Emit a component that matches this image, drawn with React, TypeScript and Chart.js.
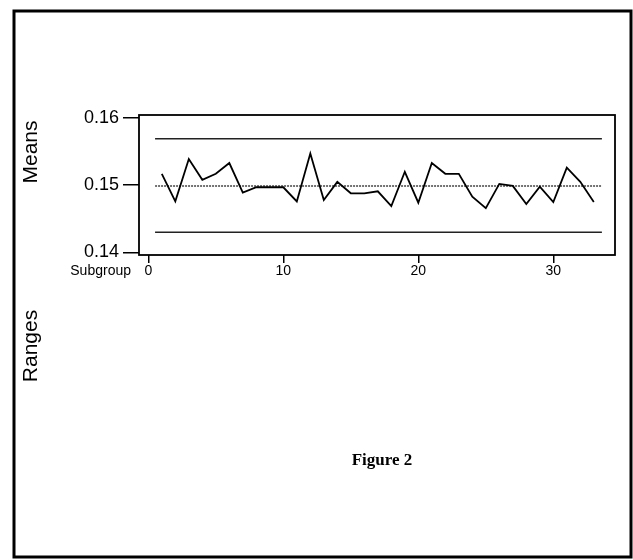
import React, { useEffect, useRef } from "react";
import { Chart, registerables } from "chart.js";

Chart.register(...registerables);

const subgroups = [1, 2, 3, 4, 5, 6, 7, 8, 9, 10, 11, 12, 13, 14, 15, 16, 17, 18, 19, 20, 21, 22, 23, 24, 25, 26, 27, 28, 29, 30, 31, 32, 33];
const means = [
  0.1517, 0.1476, 0.1539, 0.1508, 0.1517, 0.1533, 0.1489, 0.1497, 0.1497, 0.1497,
  0.1476, 0.1547, 0.1478, 0.1505, 0.1488, 0.1488, 0.1491, 0.1469, 0.152, 0.1474,
  0.1533, 0.1517, 0.1517, 0.1483, 0.1466, 0.1502, 0.1499, 0.1472, 0.1498, 0.1475,
  0.1526, 0.1505, 0.1475,
];
const upperLimit = 0.1569;
const centerLine = 0.1499;
const lowerLimit = 0.143;
const limitSpan = [0.5, 33.6];
const yTickValues = [0.14, 0.15, 0.16];
const xTickValues = [0, 10, 20, 30];
const yRange = [0.13963, 0.16044];
const xRange = [-0.69, 34.57];

const SANS = "'Liberation Sans', Arial, sans-serif";
const SERIF = "'Liberation Serif', 'Times New Roman', serif";

const decorPlugin = {
  id: "decor",
  afterDraw(chart: any) {
    const ctx = chart.ctx;
    const a = chart.chartArea;
    ctx.save();
    // plot box
    ctx.strokeStyle = "#000";
    ctx.lineWidth = 1.8;
    ctx.strokeRect(a.left, a.top, a.right - a.left, a.bottom - a.top);
    // outer frame
    ctx.lineWidth = 3;
    ctx.strokeRect(14, 11, 617, 546);
    ctx.fillStyle = "#000";
    // Subgroup label
    ctx.font = `14px ${SANS}`;
    ctx.textAlign = "right";
    ctx.textBaseline = "middle";
    ctx.fillText("Subgroup", 131, 271);
    // Means / Ranges rotated
    ctx.font = `21px ${SANS}`;
    ctx.textAlign = "center";
    ctx.textBaseline = "middle";
    ctx.save();
    ctx.translate(31, 152);
    ctx.rotate(-Math.PI / 2);
    ctx.fillText("Means", 0, 0);
    ctx.restore();
    ctx.save();
    ctx.translate(31, 346);
    ctx.rotate(-Math.PI / 2);
    ctx.fillText("Ranges", 0, 0);
    ctx.restore();
    // Figure caption
    ctx.font = `bold 17px ${SERIF}`;
    ctx.textAlign = "center";
    ctx.textBaseline = "alphabetic";
    ctx.fillText("Figure 2", 382, 465);
    ctx.restore();
  },
};

export default function App() {
  const ref = useRef<HTMLCanvasElement | null>(null);
  useEffect(() => {
    document.body.style.margin = "0";
    const canvas = ref.current;
    if (!canvas) return;
    const limitLine = (v: number) => [
      { x: limitSpan[0], y: v },
      { x: limitSpan[1], y: v },
    ];
    const chart = new Chart(canvas, {
      type: "line",
      data: {
        datasets: [
          {
            label: "Means",
            data: subgroups.map((s, i) => ({ x: s, y: means[i] })),
            borderColor: "#000",
            borderWidth: 1.8,
            pointRadius: 0,
            tension: 0,
          },
          {
            label: "UCL",
            data: limitLine(upperLimit),
            borderColor: "#222",
            borderWidth: 1.5,
            pointRadius: 0,
          },
          {
            label: "CL",
            data: limitLine(centerLine),
            borderColor: "#444",
            borderWidth: 1.5,
            borderDash: [2, 1],
            pointRadius: 0,
          },
          {
            label: "LCL",
            data: limitLine(lowerLimit),
            borderColor: "#222",
            borderWidth: 1.5,
            pointRadius: 0,
          },
        ],
      },
      options: {
        responsive: false,
        animation: false,
        devicePixelRatio: 1,
        layout: { padding: { top: 115, right: 18, left: 0, bottom: 0 } },
        plugins: { legend: { display: false }, tooltip: { enabled: false } },
        scales: {
          x: {
            type: "linear",
            min: xRange[0],
            max: xRange[1],
            border: { display: false },
            grid: {
              drawOnChartArea: false,
              drawTicks: true,
              tickLength: 8,
              color: "#000",
              lineWidth: 1.5,
            },
            ticks: {
              color: "#000",
              font: { family: SANS, size: 14 },
              padding: 0,
              maxRotation: 0,
              autoSkip: false,
              callback: (v: any) => String(v),
            },
            afterBuildTicks: (scale: any) => {
              scale.ticks = xTickValues.map((v) => ({ value: v }));
            },
            afterFit: (scale: any) => {
              scale.height = 305;
            },
          },
          y: {
            type: "linear",
            min: yRange[0],
            max: yRange[1],
            border: { display: false },
            grid: {
              drawOnChartArea: false,
              drawTicks: true,
              tickLength: 16,
              color: "#000",
              lineWidth: 1.5,
            },
            ticks: {
              color: "#000",
              font: { family: SANS, size: 18 },
              padding: 4,
              callback: (v: any) => Number(v).toFixed(2),
            },
            afterBuildTicks: (scale: any) => {
              scale.ticks = yTickValues.map((v) => ({ value: v }));
            },
            afterFit: (scale: any) => {
              scale.width = 139;
            },
          },
        },
      },
      plugins: [decorPlugin],
    });
    return () => chart.destroy();
  }, []);
  return (
    <div style={{ width: 633, height: 560, background: "#fff" }}>
      <canvas ref={ref} width={633} height={560} style={{ display: "block" }} />
    </div>
  );
}
